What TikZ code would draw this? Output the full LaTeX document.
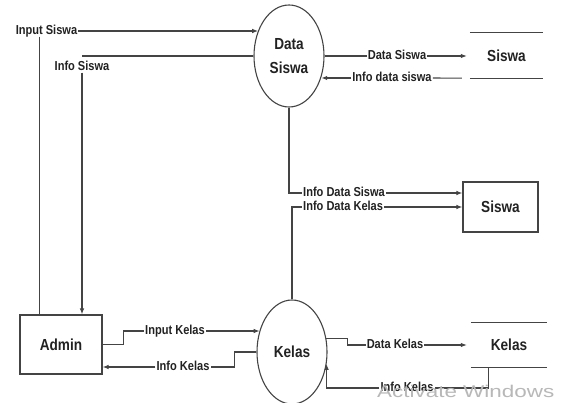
\documentclass[tikz,border=0pt]{standalone}
\usepackage{fontspec}
\setmainfont{Liberation Sans}
\newfontfamily\labfont{Liberation Sans}[FakeStretch=0.85]
\newfontfamily\wmfont{Liberation Sans}[FakeStretch=1.32]
\usetikzlibrary{shapes.geometric,arrows.meta}
\definecolor{lnc}{HTML}{444444}
\definecolor{txc}{HTML}{222222}
\begin{document}
\begin{tikzpicture}[x=1pt,y=-1pt,
 lbl/.style={font=\labfont\bfseries\fontsize{13}{15}\selectfont, text=txc, inner xsep=1pt, inner ysep=0pt, text height=9pt, text depth=2pt},
 big/.style={font=\labfont\bfseries\fontsize{16}{24}\selectfont, text=txc, align=center},
 proc/.style={big, draw=lnc, line width=1.1pt, ellipse, inner sep=0pt, minimum width=70pt, minimum height=102pt},
 ent/.style={big, draw=lnc, line width=1.1pt, rectangle, inner sep=0pt},
 store/.style={big, inner sep=0pt},
 lnk/.style={draw=lnc, line width=1.1pt},
 arr/.style={lnk, -{Latex[length=6pt,width=4.5pt]}}]
\useasboundingbox (0,0) rectangle (562,403);
\fill[white] (0,0) rectangle (562,403);

% processes, entities, stores
\node[proc] (ds) at (289,56) {Data\\Siswa};
\node[proc, minimum height=104pt] (kl) at (292,352) {Kelas};
\node[ent, minimum width=82pt, minimum height=59pt] (admin) at (61,344.5) {Admin};
\node[ent, minimum width=75pt, minimum height=50pt] (sbox) at (500.5,207) {Siswa};
\node[store, minimum width=73pt, minimum height=45pt] (sst) at (506.5,55.5) {Siswa};
\draw[lnk] (sst.north west) -- (sst.north east) (sst.south west) -- (sst.south east);
\node[store, minimum width=76pt, minimum height=44pt] (kst) at (509,345) {Kelas};
\draw[lnk] (kst.north west) -- (kst.north east) (kst.south west) -- (kst.south east);

% Input Siswa
\node[lbl] (lis) at (46.5,31) {Input Siswa};
\draw[arr] (lis.east) -- (lis.east -| ds.140.7);
\coordinate (adl) at ([xshift=20pt]admin.north west);
\draw[lnk] (adl |- lis.south) -- (adl);

% Info Siswa
\node[lbl] (lisw) at (82,67) {Info Siswa};
\draw[lnk] (ds.west) -- (ds.west -| lisw.north);
\draw[arr] (lisw.south) -- (lisw.south |- admin.north);

% Data Siswa
\node[lbl] (ldsw) at (397,56) {Data Siswa};
\coordinate (sstin) at ([xshift=-3pt]sst.west);
\draw[lnk] (ds.east) -- (ldsw.west);
\draw[arr] (ldsw.east) -- (ldsw.east -| sstin);

% Info data siswa
\node[lbl] (lids) at (392,78) {Info data siswa};
\coordinate (sstout) at ([xshift=-8pt]sst.south west);
\draw[lnk] (sstout) -- (lids.east);
\draw[arr] (lids.west) -- (lids.west -| ds.-34.9);

% Info Data Siswa / Info Data Kelas
\node[lbl, anchor=west] (lidsi) at (302,193) {Info Data Siswa};
\draw[lnk] (ds.south) |- (lidsi.west);
\draw[arr] (lidsi.east) -- (lidsi.east -| sbox.west);
\node[lbl, anchor=west] (lidk) at (302,207) {Info Data Kelas};
\draw[lnk] (kl.north) |- (lidk.west);
\draw[arr] (lidk.east) -- (sbox.west);

% Input Kelas
\node[lbl] (link) at (175,331) {Input Kelas};
\draw[lnk] (admin.east) -- ++(21,0) |- (link.west);
\draw[arr] (link.east) -- (link.east -| kl.146.7);

% Info Kelas (to Admin)
\node[lbl] (likl) at (183,367) {Info Kelas};
\draw[lnk] (kl.west) -- ++(-22,0) |- (likl.east);
\draw[arr] (likl.west) -- (likl.west -| admin.east);

% Data Kelas
\node[lbl] (ldk) at (395,345) {Data Kelas};
\coordinate (kstin) at ([xshift=-4pt]kst.west);
\draw[lnk] (kl.22.6) -- ++(21,0) |- (ldk.west);
\draw[arr] (ldk.east) -- (ldk.east -| kstin);

% Info Kelas (from store)
\node[lbl] (likb) at (407,388) {Info Kelas};
\coordinate (kstout) at ([xshift=18pt]kst.south west);
\draw[lnk] (kstout) |- (likb.east);
\draw[arr] (likb.west) -| (kl.-19.9);

% watermark
\node[anchor=west, inner sep=0pt, font=\wmfont\fontsize{17}{20}\selectfont, text=black!28] (wm) at (377,391) {Activate Windows};
\end{tikzpicture}
\end{document}
